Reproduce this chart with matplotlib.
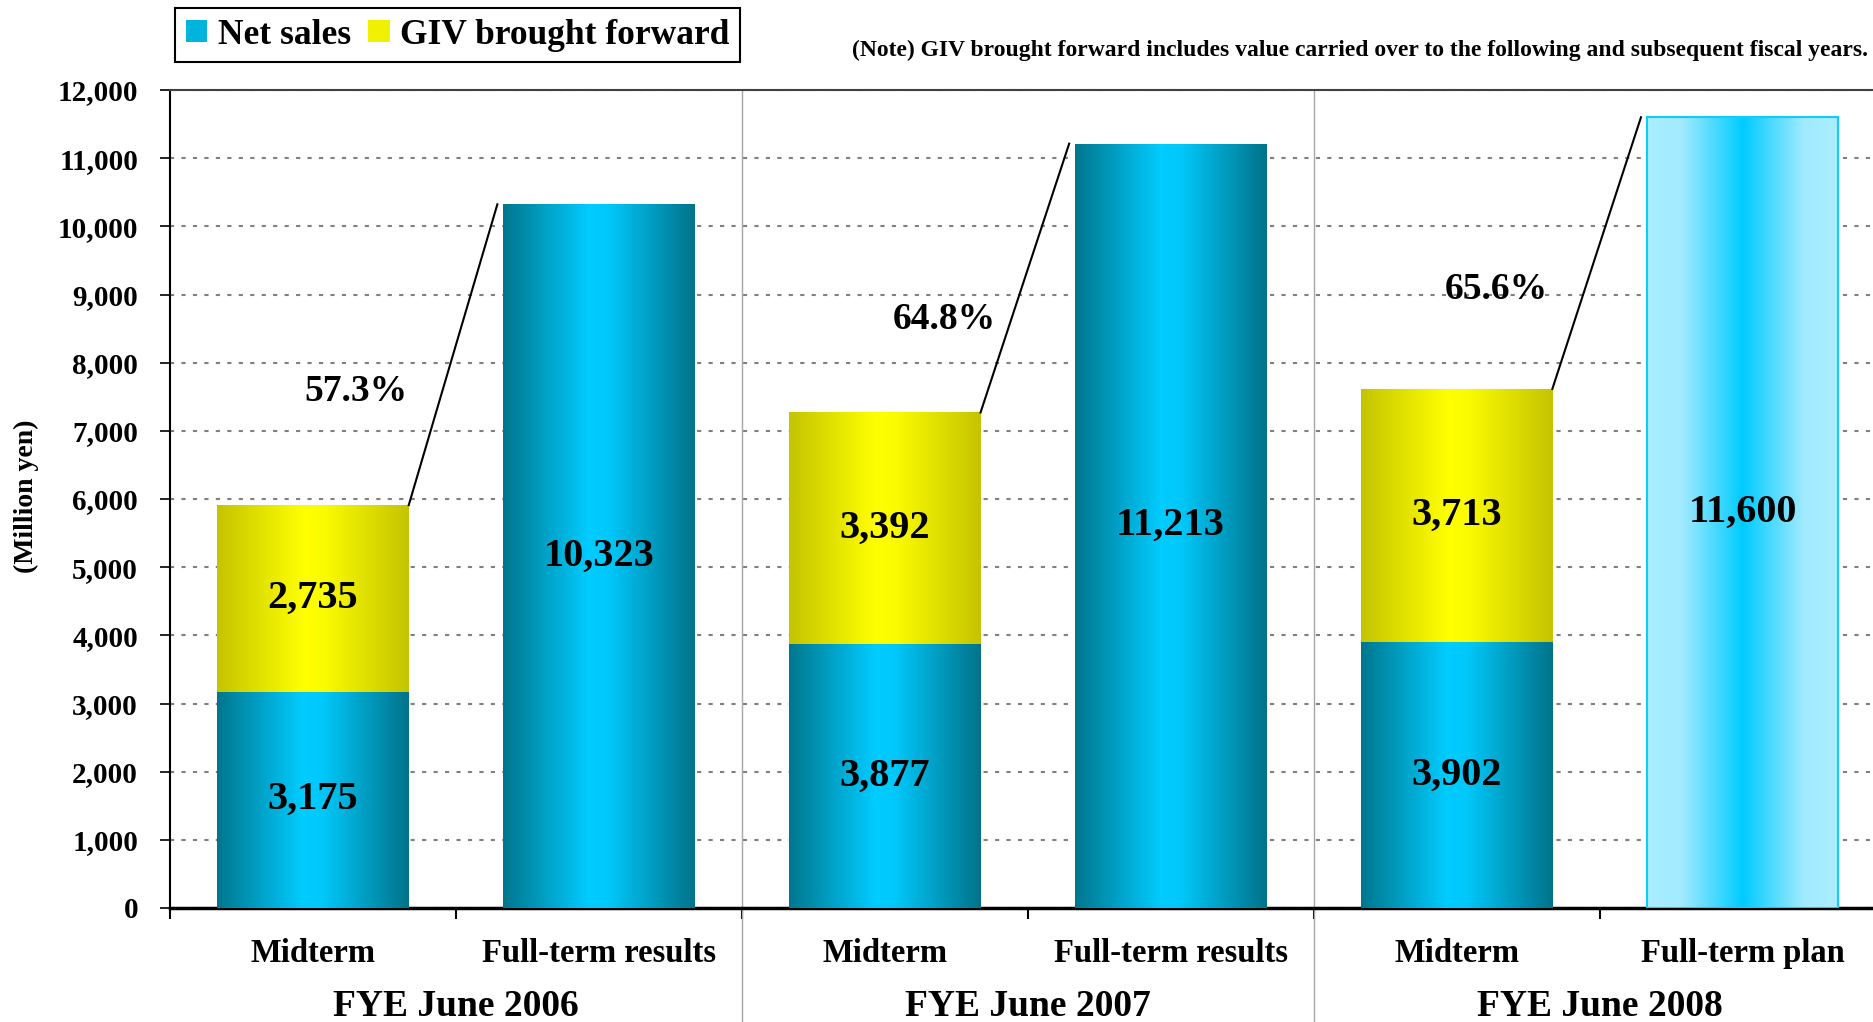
import numpy as np
import matplotlib
matplotlib.use('Agg')
import matplotlib.pyplot as plt
from matplotlib.colors import LinearSegmentedColormap
from matplotlib.patches import Patch
from matplotlib.transforms import blended_transform_factory

# データ
years = ['FYE June 2006', 'FYE June 2007', 'FYE June 2008']
bar_labels = ['Midterm', 'Full-term results', 'Midterm', 'Full-term results', 'Midterm', 'Full-term plan']
mid_sales = [3175, 3877, 3902]
mid_giv = [2735, 3392, 3713]
full_sales = [10323, 11213, 11600]
yticks = list(range(0, 12001, 1000))

plt.rcParams['font.family'] = ['Liberation Serif', 'DejaVu Serif']
plt.rcParams['font.weight'] = 'bold'

fig = plt.figure(figsize=(18.74, 10.22), dpi=100)
ax = fig.add_axes([170 / 1874, 1 - 908 / 1022, 1 - 170 / 1874, (908 - 90) / 1022])

cm_net = LinearSegmentedColormap.from_list('net', [(0, '#00768E'), (0.45, '#00CCFF'), (0.55, '#00C8FA'), (1, '#00738A')])
cm_giv = LinearSegmentedColormap.from_list('giv', [(0, '#C4C400'), (0.45, '#FFFF00'), (0.55, '#FCFC00'), (1, '#C4C400')])
cm_plan = LinearSegmentedColormap.from_list('plan', [(0, '#AAEEFF'), (0.18, '#A2EAFF'), (0.5, '#00CCFF'), (0.82, '#A2EAFF'), (1, '#AAEEFF')])


def fill_gradient(patch, cmap):
    x0, y0 = patch.get_x(), patch.get_y()
    w, h = patch.get_width(), patch.get_height()
    grad = np.linspace(0, 1, 256).reshape(1, -1)
    im = ax.imshow(grad, cmap=cmap, extent=(x0, x0 + w, y0, y0 + h), aspect='auto',
                   zorder=patch.get_zorder() + 0.1, interpolation='bilinear')
    im.set_clip_path(patch)


w = 0.67
x_mid = np.arange(3) * 2 + 0.5
x_full = np.arange(3) * 2 + 1.5

b_net = ax.bar(x_mid, mid_sales, width=w, color='#00B0D8', zorder=3)
b_giv = ax.bar(x_mid, mid_giv, bottom=mid_sales, width=w, color='#EEEE00', zorder=3)
b_full = ax.bar(x_full, full_sales, width=w, color='#00B0D8', zorder=3)

for p in b_net:
    fill_gradient(p, cm_net)
for p in b_giv:
    fill_gradient(p, cm_giv)
for i, p in enumerate(b_full):
    fill_gradient(p, cm_plan if i == 2 else cm_net)
# 計画のバーは枠線あり
ax.bar(x_full[2], full_sales[2], width=w, facecolor='none', edgecolor='#11CCF5', lw=1.5, zorder=4)

# 比率ラベルの位置ずれ (x, y)
pct_dx = [0.15, 0.21, 0.14]
pct_dy = [1670, 1370, 1460]

# 値ラベル
for i in range(3):
    ax.text(x_mid[i], mid_sales[i] / 2, f'{mid_sales[i]:,}', ha='center', va='center', fontsize=29, zorder=5)
    ax.text(x_mid[i], mid_sales[i] + mid_giv[i] / 2, f'{mid_giv[i]:,}', ha='center', va='center', fontsize=29, zorder=5)
    ax.text(x_full[i], full_sales[i] / 2, f'{full_sales[i]:,}', ha='center', va='center', fontsize=29, zorder=5)

    # 比率の線
    total = mid_sales[i] + mid_giv[i]
    ax.plot([x_mid[i] + w / 2, x_full[i] - w / 2 - 0.02], [total, full_sales[i]],
            color='black', lw=1.5, zorder=5, clip_on=False)
    pct = total / full_sales[i] * 100
    ax.text(x_mid[i] + pct_dx[i], total + pct_dy[i], f'{pct:.1f}%', ha='center', va='center', fontsize=27, zorder=5)

ax.set_xlim(0, 5.96)
ax.set_ylim(0, 12000)
ax.set_yticks(yticks)
ax.set_yticklabels([f'{v:,}' for v in yticks])
ax.set_xticks([0, 1, 2, 3, 4, 5])
ax.set_xticklabels([])
ax.tick_params(axis='y', direction='out', length=7, width=1.2, labelsize=21, pad=16)
ax.tick_params(axis='x', direction='out', length=8, width=1.5)

ax.yaxis.grid(True, color='#808080', lw=1.5, ls=(0, (2, 3.5)), zorder=0)
ax.set_axisbelow(True)
ax.spines['right'].set_visible(False)
ax.spines['top'].set_color('#404040')
ax.spines['top'].set_linewidth(1.5)
ax.spines['left'].set_linewidth(1.5)
ax.spines['bottom'].set_linewidth(2.5)

trans = blended_transform_factory(ax.transData, ax.transAxes)
for xs in [2, 4]:
    ax.plot([xs, xs], [1, -0.15], transform=trans, clip_on=False, color='#A6A6A6', lw=1)

for i, lab in enumerate(bar_labels):
    ax.text(i + 0.5, -0.056, lab, transform=trans, ha='center', va='center', fontsize=23.5)
for i, yr in enumerate(years):
    ax.text(2 * i + 1, -0.121, yr, transform=trans, ha='center', va='center', fontsize=27)

fig.text(26 / 1874, 1 - 496 / 1022, '(Million yen)', rotation=90, ha='center', va='center', fontsize=20)
fig.text(0.997, 1 - 50 / 1022, '(Note) GIV brought forward includes value carried over to the following and subsequent fiscal years.',
         ha='right', va='center', fontsize=17)

leg = fig.legend(handles=[Patch(facecolor='#00B4DC', label='Net sales'),
                          Patch(facecolor='#F0F000', label='GIV brought forward')],
                 loc='upper left', bbox_to_anchor=(175 / 1874, 1 - 8 / 1022), ncol=2,
                 fancybox=False, edgecolor='black', fontsize=25.5, handlelength=0.6, handleheight=0.6,
                 handletextpad=0.3, columnspacing=0.5, borderpad=0.3, borderaxespad=0, framealpha=1)
leg.get_frame().set_linewidth(1.5)

fig.savefig('out.png', dpi=100)
